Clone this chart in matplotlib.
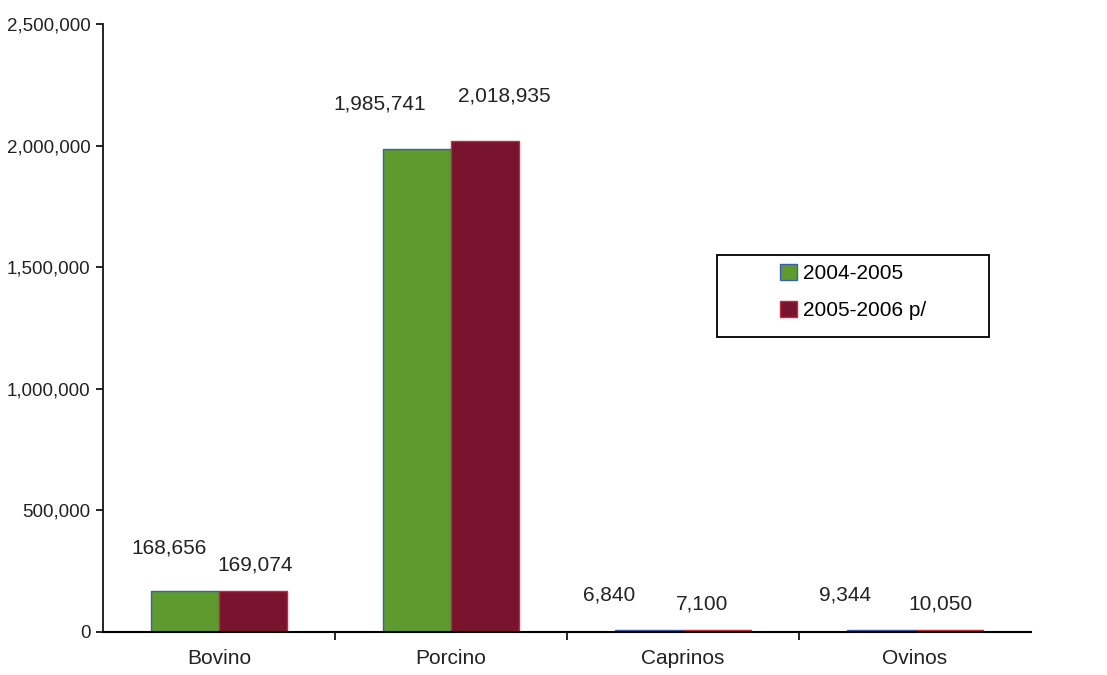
import matplotlib.pyplot as plt
import numpy as np
from matplotlib.ticker import FuncFormatter
from matplotlib.patches import Rectangle

plt.rcParams['font.family'] = ['Liberation Sans', 'DejaVu Sans']

categories = ['Bovino', 'Porcino', 'Caprinos', 'Ovinos']
series_names = ['2004-2005', '2005-2006 p/']
values_0405 = [168656, 1985741, 6840, 9344]
values_0506 = [169074, 2018935, 7100, 10050]

# label offsets in pixels (dx, dy) relative to bar top centre
offs_0405 = [(-16, 43), (-37, 45), (-40, 35), (-36, 35)]
offs_0506 = [(2, 26), (19, 45), (-15, 26), (-9, 26)]

fig = plt.figure(figsize=(11.07, 6.75), dpi=100)
ax = fig.add_axes([103 / 1107, 1 - 632 / 675, 928 / 1107, 608 / 675])

x = np.arange(len(categories))
w = 0.295
b1 = ax.bar(x - w / 2, values_0405, w, color='#5f9a2f', edgecolor='#3b5fa8', linewidth=1.0, label=series_names[0])
b2 = ax.bar(x + w / 2, values_0506, w, color='#78142e', edgecolor='#c8283c', linewidth=1.0, label=series_names[1])

for bars, vals, offs in [(b1, values_0405, offs_0405), (b2, values_0506, offs_0506)]:
    for bar, v, (dx, dy) in zip(bars, vals, offs):
        ax.annotate(f'{v:,}', (bar.get_x() + bar.get_width() / 2, v),
                    xytext=(dx, dy), textcoords='offset pixels',
                    ha='center', va='center', fontsize=15, color='#222222')

ax.set_xlim(-0.5, len(categories) - 0.5)
ax.set_ylim(0, 2500000)
ax.set_yticks(np.arange(0, 2500001, 500000))
ax.yaxis.set_major_formatter(FuncFormatter(lambda v, p: f'{int(v):,}'))
ax.set_xticks(x)
ax.set_xticklabels(categories, fontsize=15, color='#222222')
ax.set_xticks(np.arange(0.5, len(categories) - 0.5, 1), minor=True)
ax.tick_params(axis='x', which='major', length=0, pad=12)
ax.tick_params(axis='x', which='minor', length=6, direction='out', width=1.2)
ax.tick_params(axis='y', labelsize=13.5, length=5, direction='out', width=1.2, pad=4, labelcolor='#222222')

for s in ['top', 'right']:
    ax.spines[s].set_visible(False)
ax.spines['left'].set_linewidth(1.2)
ax.spines['bottom'].set_linewidth(1.5)

# legend box drawn separately, entries sit left inside it
ax.add_patch(Rectangle((614 / 928, 295 / 608), 272 / 928, 82 / 608, transform=ax.transAxes,
                       fill=False, edgecolor='black', linewidth=1.3, clip_on=False))
leg = ax.legend(loc='upper left', bbox_to_anchor=(677 / 928, 1 - 240 / 608),
                fontsize=15, frameon=False, handlelength=0.8,
                handleheight=0.8, handletextpad=0.3, borderpad=0,
                labelspacing=0.85, borderaxespad=0)

fig.savefig('out.png', dpi=100)
